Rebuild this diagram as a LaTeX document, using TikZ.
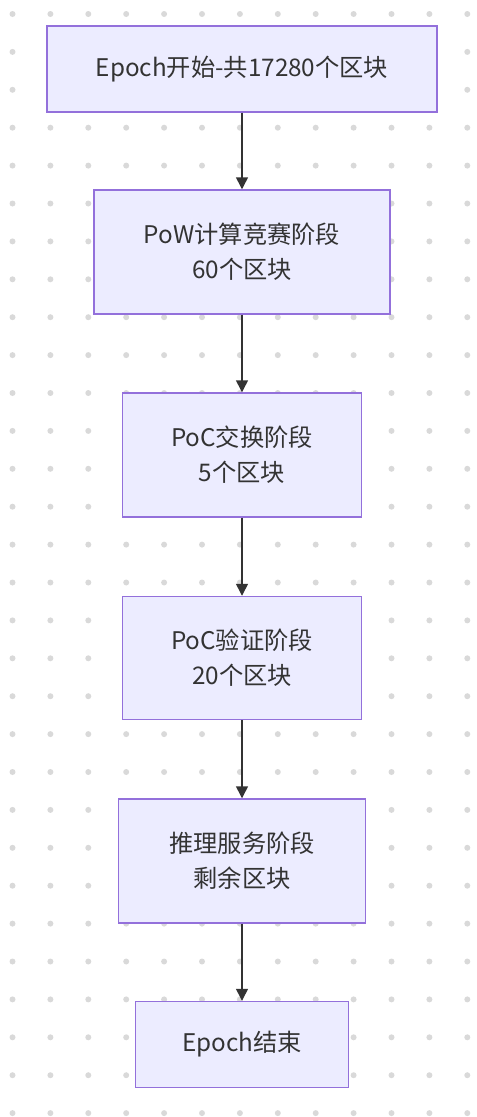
\documentclass[tikz,border=0pt]{standalone}
\usepackage{fontspec}
\setmainfont{Noto Sans CJK SC}
\usepackage{xcolor}
\usepackage{tikz}
\usetikzlibrary{arrows.meta,positioning}

\definecolor{boxfill}{HTML}{ECECFF}
\definecolor{boxline}{HTML}{9370DB}
\definecolor{ink}{HTML}{333333}
\definecolor{griddot}{HTML}{D9D9D9}

\begin{document}
\begin{tikzpicture}[y=-0.75pt,x=0.75pt,
	stage/.style={draw=boxline, fill=boxfill, line width=1.1pt, inner sep=0pt,
		align=center, text=ink, font=\fontsize{18.2}{26}\selectfont},
	flow/.style={draw=ink, line width=1.1pt, -{Triangle[length=9pt,width=9pt]}}]
	\useasboundingbox (0,0) rectangle (476,1117);

	% dotted background
	\foreach \i in {0,...,12}
		\foreach \j in {0,...,29}
			\fill[griddot] (12.5+37.9*\i,14+37.9*\j) circle (3);

	\node[stage, minimum width=292.5pt, minimum height=64.5pt] (start) at (242,69) {Epoch开始-共17280个区块};
	\node[stage, minimum width=222pt, minimum height=93pt] (pow) at (242,252) {PoW计算竞赛阶段\\60个区块};
	\node[stage, minimum width=179.25pt, minimum height=93pt] (swap) at (242,455) {PoC交换阶段\\5个区块};
	\node[stage, minimum width=179.25pt, minimum height=92.25pt] (check) at (242,658) {PoC验证阶段\\20个区块};
	\node[stage, minimum width=185.25pt, minimum height=93pt] (serve) at (242,861) {推理服务阶段\\剩余区块};
	\node[stage, minimum width=159.75pt, minimum height=64.5pt] (stop) at (242,1044.5) {Epoch结束};

	\draw[flow] (start) -- (pow);
	\draw[flow] (pow) -- (swap);
	\draw[flow] (swap) -- (check);
	\draw[flow] (check) -- (serve);
	\draw[flow] (serve) -- (stop);
\end{tikzpicture}
\end{document}
